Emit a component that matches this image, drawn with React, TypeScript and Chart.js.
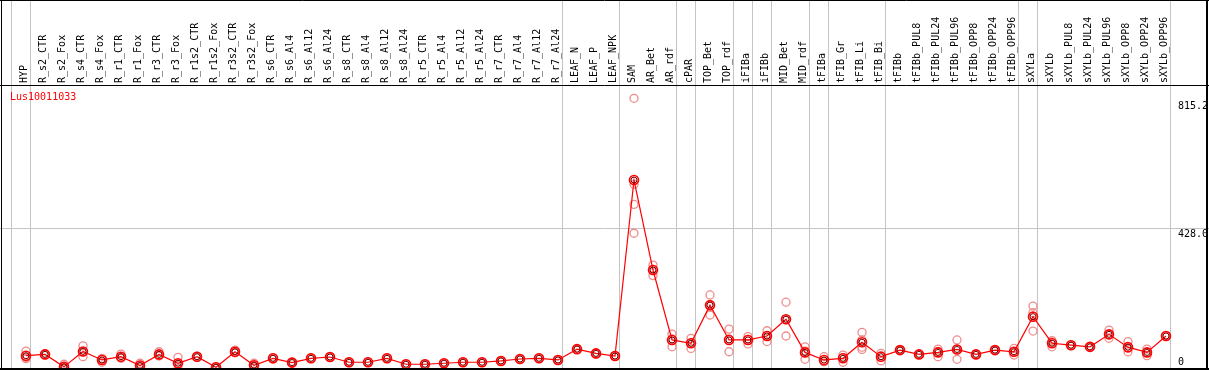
import React, { useEffect, useRef } from "react";
import { Chart, registerables } from "chart.js";

Chart.register(...registerables);

const geneName = "Lus10011033";

const categories = [
  "HYP", "R_s2_CTR", "R_s2_Fox", "R_s4_CTR", "R_s4_Fox", "R_r1_CTR", "R_r1_Fox", "R_r3_CTR", "R_r3_Fox",
  "R_r1s2_CTR", "R_r1s2_Fox", "R_r3s2_CTR", "R_r3s2_Fox", "R_s6_CTR", "R_s6_Al4", "R_s6_Al12", "R_s6_Al24",
  "R_s8_CTR", "R_s8_Al4", "R_s8_Al12", "R_s8_Al24", "R_r5_CTR", "R_r5_Al4", "R_r5_Al12", "R_r5_Al24",
  "R_r7_CTR", "R_r7_Al4", "R_r7_Al12", "R_r7_Al24", "LEAF_N", "LEAF_P", "LEAF_NPK", "SAM", "AR_Bet", "AR_rdf",
  "cPAR", "TOP_Bet", "TOP_rdf", "iFIBa", "iFIBb", "MID_Bet", "MID_rdf", "tFIBa", "tFIB_Gr", "tFIB_Li", "tFIB_Bi",
  "tFIBb", "tFIBb_PUL8", "tFIBb_PUL24", "tFIBb_PUL96", "tFIBb_OPP8", "tFIBb_OPP24", "tFIBb_OPP96", "sXYLa",
  "sXYLb", "sXYLb_PUL8", "sXYLb_PUL24", "sXYLb_PUL96", "sXYLb_OPP8", "sXYLb_OPP24", "sXYLb_OPP96",
];

const means = [
  39, 43, 5, 52, 26, 36, 9, 43, 16, 36, 4, 51, 10, 31, 18, 31, 35, 19, 19, 31, 13, 13, 16, 19, 19, 23, 29, 31, 26,
  59, 46, 38, 574, 300, 87, 77, 193, 87, 87, 99, 150, 49, 26, 31, 80, 36, 56, 43, 49, 58, 43, 56, 51, 158, 77, 71,
  66, 104, 65, 49, 99,
];

const rep1 = [
  53, 45, 13, 69, 31, 44, 16, 51, 34, 38, 6, 56, 16, 33, 19, 32, 36, 20, 20, 32, 14, 14, 17, 20, 20, 24, 30, 32, 27,
  60, 47, 39, 823, 315, 105, 92, 224, 120, 97, 115, 202, 66, 36, 41, 110, 46, 57, 44, 59, 87, 44, 57, 61, 190, 85, 72,
  67, 117, 82, 59, 100,
];
const rep2 = [
  34, 41, 2, 36, 19, 31, 5, 38, 0, 34, 2, 48, 4, 29, 17, 30, 34, 18, 18, 30, 12, 12, 15, 18, 18, 22, 28, 30, 25,
  58, 45, 37, 561, 283, 66, 61, 163, 51, 75, 82, 99, 28, 21, 19, 65, 23, 55, 42, 36, 28, 42, 55, 41, 114, 66, 70,
  65, 92, 51, 39, 98,
];
const rep3 = [
  30, null, 0, 51, 28, 33, 6, 40, 14, null, null, 49, 10, null, null, null, null, null, null, null, null, null, null,
  null, null, null, null, null, null, null, null, null, 500, 302, 90, 78, 192, 90, 89, 100, 149, 53, 21, 33, 58, 39,
  null, null, 52, 59, null, null, 51, 170, 80, null, null, 103, 62, 49, null,
];
const rep4 = [
  null, null, null, null, null, null, null, null, null, null, null, null, null, null, null, null, null, null, null,
  null, null, null, null, null, null, null, null, null, null, null, null, null, 412, null, null, null, null, null,
  null, null, null, null, null, null, 87, null, null, null, null, null, null, null, null, null, null, null, null,
  null, null, null, null,
];

const groupBoundaries = [-1, 0, 28, 31, 34, 35, 37, 38, 39, 41, 42, 45, 52, 53, 60];
const gridValues = [428.0];
const axisLabels = ["815.2", "428.0", "0"];
const axisLabelValues = [815.2, 428.0, 0];

const FONT = "10px 'DejaVu Sans Mono', monospace";

export default function App() {
  const ref = useRef<HTMLCanvasElement | null>(null);

  useEffect(() => {
    document.body.style.margin = "0";
    const canvas = ref.current;
    if (!canvas) return;

    const repPoints: { x: number; y: number }[] = [];
    [rep1, rep2, rep3, rep4].forEach((arr) => {
      arr.forEach((v, i) => {
        if (v !== null && v !== undefined) repPoints.push({ x: i, y: v as number });
      });
    });
    const meanPoints = means.map((v, i) => ({ x: i, y: v }));

    const deco = {
      id: "deco",
      beforeDatasetsDraw(chart: any) {
        const ctx = chart.ctx;
        const xs = chart.scales.x;
        const ys = chart.scales.y;
        ctx.save();
        ctx.strokeStyle = "#c4c4c4";
        ctx.lineWidth = 1;
        groupBoundaries.forEach((b) => {
          const px = Math.round(xs.getPixelForValue(b) + 4) + 0.5;
          ctx.beginPath();
          ctx.moveTo(px, 0);
          ctx.lineTo(px, 370);
          ctx.stroke();
        });
        gridValues.forEach((g) => {
          const py = Math.round(ys.getPixelForValue(g)) + 0.5;
          ctx.beginPath();
          ctx.moveTo(0, py);
          ctx.lineTo(1209, py);
          ctx.stroke();
        });
        ctx.restore();
      },
      afterDatasetsDraw(chart: any) {
        const ctx = chart.ctx;
        const xs = chart.scales.x;
        const ys = chart.scales.y;
        ctx.save();
        ctx.strokeStyle = "#000";
        ctx.lineWidth = 1;
        ctx.beginPath();
        ctx.moveTo(0, 0.5);
        ctx.lineTo(1209, 0.5);
        ctx.moveTo(0, 85.5);
        ctx.lineTo(1209, 85.5);
        ctx.moveTo(1.5, 0);
        ctx.lineTo(1.5, 370);
        ctx.stroke();
        ctx.lineWidth = 2;
        ctx.beginPath();
        ctx.moveTo(1207, 0);
        ctx.lineTo(1207, 370);
        ctx.moveTo(0, 369);
        ctx.lineTo(1209, 369);
        ctx.stroke();

        ctx.fillStyle = "#000";
        ctx.font = FONT;
        ctx.textAlign = "left";
        ctx.textBaseline = "middle";
        categories.forEach((c, i) => {
          const px = xs.getPixelForValue(i);
          ctx.save();
          ctx.translate(px - 1.5, 83);
          ctx.rotate(-Math.PI / 2);
          ctx.fillText(c, 0, 0);
          ctx.restore();
        });

        ctx.fillStyle = "#ff0000";
        ctx.textBaseline = "top";
        ctx.fillText(geneName, 10, 92);

        ctx.fillStyle = "#000";
        axisLabels.forEach((t, k) => {
          const v = axisLabelValues[k];
          const py = ys.getPixelForValue(v);
          if (v === 0) {
            ctx.textBaseline = "bottom";
            ctx.fillText(t, 1178, 367);
          } else {
            ctx.textBaseline = "top";
            ctx.fillText(t, 1178, py + 1);
          }
        });
        ctx.restore();
      },
    };

    const chart = new Chart(canvas, {
      type: "scatter",
      data: {
        datasets: [
          {
            type: "scatter",
            data: meanPoints,
            showLine: false,
            pointRadius: 3,
            pointBorderWidth: 1,
            pointBorderColor: "#700000",
            pointBackgroundColor: "rgba(0,0,0,0)",
            order: 0,
            clip: false,
          } as any,
          {
            type: "line",
            data: meanPoints,
            borderColor: "#ff0000",
            borderWidth: 1.2,
            fill: false,
            tension: 0,
            pointRadius: 4.5,
            pointBorderWidth: 1.6,
            pointBorderColor: "#ff0000",
            pointBackgroundColor: "rgba(0,0,0,0)",
            order: 1,
            clip: false,
          } as any,
          {
            type: "scatter",
            data: repPoints,
            showLine: false,
            pointRadius: 4,
            pointBorderWidth: 1.3,
            pointBorderColor: "rgba(236,128,128,0.9)",
            pointBackgroundColor: "rgba(0,0,0,0)",
            order: 2,
            clip: false,
          } as any,
        ],
      },
      options: {
        animation: false,
        responsive: false,
        maintainAspectRatio: false,
        layout: { autoPadding: false, padding: { top: 86, bottom: 1, left: 0, right: 0 } },
        plugins: { legend: { display: false }, tooltip: { enabled: false } },
        scales: {
          x: { type: "linear", display: false, min: -1.3684, max: 62.2632 },
          y: { type: "linear", display: false, min: -1.52, max: 860.5 },
        },
      } as any,
      plugins: [deco],
    });

    return () => chart.destroy();
  }, []);

  return (
    <div style={{ width: 1209, height: 370, background: "#fff" }}>
      <canvas ref={ref} width={1209} height={370} style={{ display: "block", width: 1209, height: 370 }} />
    </div>
  );
}
